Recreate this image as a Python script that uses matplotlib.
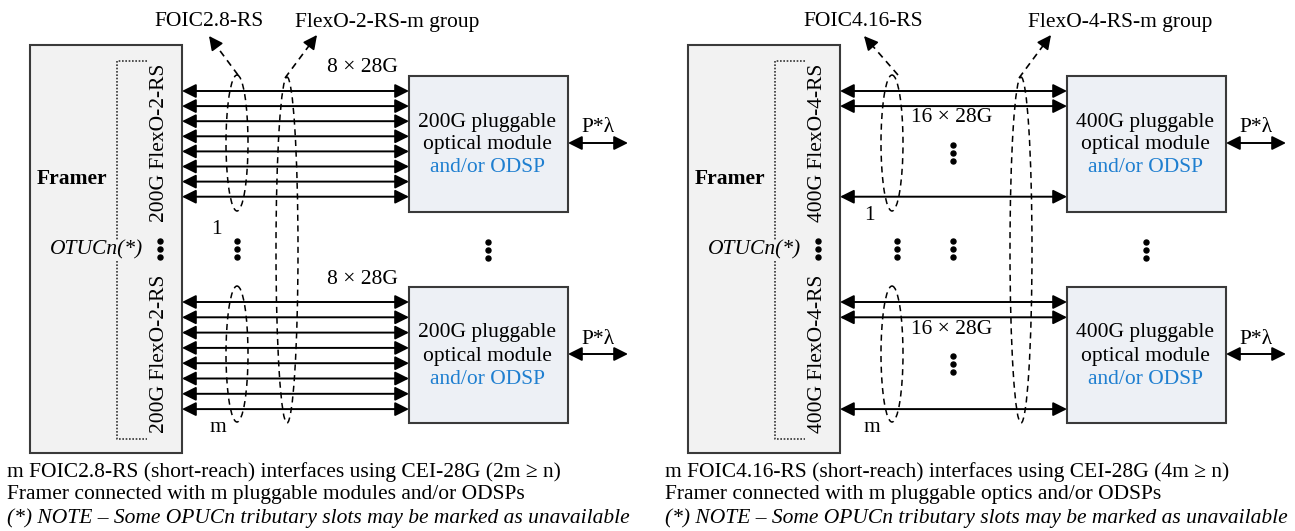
import numpy as np
import matplotlib.pyplot as plt
from matplotlib.patches import Rectangle, Ellipse

plt.rcParams['font.family'] = ['Liberation Serif', 'DejaVu Serif']
FS = 15.5

# ---- diagram text / content ----
panel_x0 = [0, 658]
module_rate = ['200G', '400G']
flexo_label = ['200G FlexO-2-RS', '400G FlexO-4-RS']
foic_label = ['FOIC2.8-RS', 'FOIC4.16-RS']
group_label = ['FlexO-2-RS-m group', 'FlexO-4-RS-m group']
lane_label = ['8 × 28G', '16 × 28G']
group_index = ['1', 'm']
captions = [
    ['m FOIC2.8-RS (short-reach) interfaces using CEI-28G (2m ≥ n)',
     'Framer connected with m pluggable modules and/or ODSPs',
     '(*) NOTE – Some OPUCn tributary slots may be marked as unavailable'],
    ['m FOIC4.16-RS (short-reach) interfaces using CEI-28G (4m ≥ n)',
     'Framer connected with m pluggable optics and/or ODSPs',
     '(*) NOTE – Some OPUCn tributary slots may be marked as unavailable'],
]
# lanes drawn per group (left: all 8, right: first two + last of 16)
lanes_drawn = [[0, 1, 2, 3, 4, 5, 6, 7], [0, 1, 7]]

BLUE = '#1f7fd0'
EDGE = '#3a3a3a'
FRAMER_BG = '#f2f2f2'

fig = plt.figure(figsize=(12.95, 5.31), dpi=100)
ax = fig.add_axes([0, 0, 1, 1])
ax.set_xlim(0, 1295)
ax.set_ylim(531, 0)
ax.axis('off')


def dbl_arrow(x1, x2, y):
    ax.annotate('', xy=(x2, y), xytext=(x1, y),
                arrowprops=dict(arrowstyle='<|-|>', color='black', lw=1.4,
                                mutation_scale=21, shrinkA=0, shrinkB=0))


def dashed_pointer(x1, y1, x2, y2):
    d = np.array([x2 - x1, y2 - y1], float)
    d /= np.hypot(*d)
    bx, by = x2 - d[0] * 12, y2 - d[1] * 12
    ax.plot([x1, bx], [y1, by], color='black', lw=1.2, ls=(0, (4, 3)))
    ax.annotate('', xy=(x2, y2), xytext=(bx, by),
                arrowprops=dict(arrowstyle='-|>', color='black', lw=1.2,
                                mutation_scale=21, shrinkA=0, shrinkB=0))


def dots(x, ys):
    ax.plot([x] * len(ys), ys, 'o', color='black', ms=3.6)


for p, x0 in enumerate(panel_x0):
    # framer
    ax.add_patch(Rectangle((x0 + 30, 45), 152, 408, fc=FRAMER_BG, ec=EDGE, lw=1.5))
    ax.text(x0 + 72, 179, 'Framer', fontsize=FS, fontweight='bold', ha='center', va='center')
    ax.plot(np.array([147, 117, 117, 147]) + x0, [61, 61, 439, 439],
            color='#333333', lw=1.2, ls=(0, (1, 1)))
    ax.text(x0 + 143, 250, 'OTUCn(*)', fontsize=FS, style='italic', ha='right', va='center',
            bbox=dict(fc=FRAMER_BG, ec='none', pad=0.5), zorder=3)
    dots(x0 + 160, [241, 249, 257])

    for g, (ytop, step) in enumerate([(91, 15.1), (302, 15.3)]):
        ax.text(x0 + 160, ytop + 52, flexo_label[p], fontsize=FS, rotation=90,
                ha='center', va='center')
        for i in lanes_drawn[p]:
            dbl_arrow(x0 + 182, x0 + 409, ytop + i * step)
        # module
        my = 76 + g * 211
        ax.add_patch(Rectangle((x0 + 409, my), 159, 136, fc='#edf0f5', ec=EDGE, lw=1.5))
        ax.text(x0 + 487, my + 46, module_rate[p] + ' pluggable', fontsize=FS, ha='center', va='center')
        ax.text(x0 + 487, my + 69, 'optical module', fontsize=FS, ha='center', va='center')
        ax.text(x0 + 487, my + 92, 'and/or ODSP', fontsize=FS, color=BLUE, ha='center', va='center')
        ax.text(x0 + 598, my + 52, 'P*λ', fontsize=FS, ha='center', va='center')
        dbl_arrow(x0 + 568, x0 + 628, my + 67)
        # FOIC ellipse
        fx = 237 if p == 0 else 234
        ax.add_patch(Ellipse((x0 + fx, ytop + 52), 22, 136, fill=False, ec='black',
                             lw=1.1, ls=(0, (4, 3))))
        if p == 0:
            ax.text(x0 + 362, ytop - 23, lane_label[p], fontsize=FS, ha='center', va='center')
            ax.text(x0 + 216 + 2 * g, 230 + g * 197, group_index[g], fontsize=FS, ha='center', va='center')
        else:
            ax.text(x0 + 294, ytop + 27, lane_label[p], fontsize=FS, ha='center', va='center')
            dots(x0 + 295, [ytop + 54, ytop + 62, ytop + 70])
            ax.text(x0 + 211 + 3 * g, 215 + g * 212, group_index[g], fontsize=FS, ha='center', va='center')

    # group ellipse
    gx = 287 if p == 0 else 363
    ax.add_patch(Ellipse((x0 + gx, 250), 22, 346, fill=False, ec='black',
                         lw=1.1, ls=(0, (4, 3))))
    # dots between groups
    fx = 237 if p == 0 else 239
    dots(x0 + fx, [241, 249, 257])
    if p == 1:
        dots(x0 + 295, [241, 249, 257])
    dots(x0 + 488, [242, 250, 258])

    # labels with dashed pointers
    lx = 209 if p == 0 else 205
    ax.text(x0 + lx, 22, foic_label[p], fontsize=FS, ha='center', va='center')
    dashed_pointer(x0 + fx + 1, 75, x0 + 209 if p == 0 else x0 + 206, 36)
    glx = 387 if p == 0 else 462
    ax.text(x0 + glx, 22, group_label[p], fontsize=FS, ha='center', va='center')
    dashed_pointer(x0 + gx - 2, 78, x0 + gx + 30, 35)

    # caption
    for k, line in enumerate(captions[p]):
        ax.text(x0 + 7, 472 + k * 23, line,
                fontsize=FS, ha='left', va='center', style='italic' if k == 2 else 'normal')

fig.savefig('out.png', dpi=100)
